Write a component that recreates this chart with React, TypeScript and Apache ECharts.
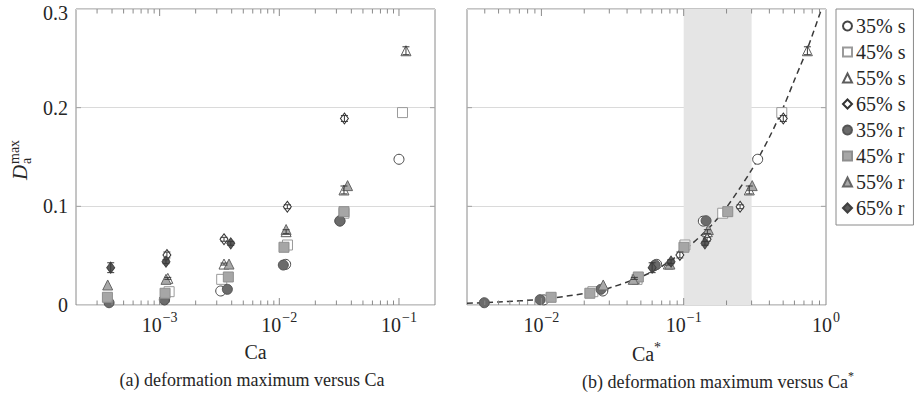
import React, { useEffect, useRef } from 'react';
import * as echarts from 'echarts';

const FONT = 'Liberation Serif, serif';
const TXT = '#262626';
const FRAME = '#8a8a8a';

// ---------- data (D = deformation maximum) ----------
// series names
const NAMES = ['35% s', '45% s', '55% s', '65% s', '35% r', '45% r', '55% r', '65% r'];

// Panel (a): x = Ca
const s35Ca = [1.1e-3, 3.24e-3, 1.13e-2, 3.21e-2, 0.1];
const s45Ca = [1.2e-3, 3.3e-3, 1.17e-2, 3.47e-2, 0.107];
const s55Ca = [1.17e-3, 3.45e-3, 1.14e-2, 3.47e-2, 0.1144];
const s65Ca = [1.15e-3, 3.45e-3, 1.167e-2, 3.5e-2];
const r35Ca = [3.78e-4, 1.094e-3, 3.68e-3, 1.08e-2, 3.21e-2];
const r45Ca = [3.66e-4, 1.11e-3, 3.75e-3, 1.094e-2, 3.47e-2];
const r55Ca = [3.68e-4, 1.13e-3, 3.8e-3, 1.14e-2, 3.72e-2];
const r65Ca = [3.9e-4, 1.13e-3, 3.93e-3];

// Panel (b): x = Ca*
const s35Cs = [1.04e-2, 2.7e-2, 6.45e-2, 0.1374, 0.331];
const s45Cs = [2.3e-2, 4.7e-2, 0.102, 0.188, 0.489];
const s55Cs = [4.5e-2, 7.8e-2, 0.1466, 0.289, 0.74];
const s65Cs = [9.4e-2, 0.146, 0.249, 0.501];
const r35Cs = [3.97e-3, 9.8e-3, 2.62e-2, 6.3e-2, 0.1436];
const r45Cs = [1.17e-2, 2.19e-2, 4.8e-2, 0.1004, 0.204];
const r55Cs = [2.72e-2, 4.42e-2, 8.0e-2, 0.149, 0.303];
const r65Cs = [6.0e-2, 8.15e-2, 0.141];

// y values: D_a^max
const s35D = [0.0052, 0.0142, 0.0412, 0.085, 0.1477];
const s45D = [0.0135, 0.026, 0.0608, 0.093, 0.195];
const s55D = [0.027, 0.0415, 0.0743, 0.1166, 0.2577];
const s65D = [0.0507, 0.0666, 0.0996, 0.189];
const r35D = [0.0023, 0.0054, 0.0159, 0.0405, 0.0854];
const r45D = [0.0078, 0.0119, 0.0284, 0.0585, 0.0946];
const r55D = [0.0203, 0.026, 0.0415, 0.0765, 0.121];
const r65D = [0.0378, 0.0439, 0.0625];

// error bar half-widths
const s55Err = [0.001, 0.001, 0.002, 0.004, 0.004];
const s65Err = [0.003, 0.002, 0.002, 0.003];
const r65Err = [0.005, 0.002, 0.002];

// dashed fit curve (panel b)
const fitCs = [0.003, 0.005, 0.01, 0.02, 0.03, 0.05, 0.07, 0.1, 0.15, 0.2, 0.3, 0.4, 0.5, 0.6, 0.75, 0.93];
const fitD = [0.0018, 0.003, 0.0059, 0.0117, 0.0173, 0.0285, 0.039, 0.055, 0.078, 0.099, 0.137, 0.17, 0.2, 0.228, 0.262, 0.3];

// shaded band in panel (b)
const bandRange = [0.1, 0.3];

// axis ranges & ticks
const xRangeA = [2e-4, 0.2];
const xRangeB = [3e-3, 1];
const yRange = [0, 0.3];
const yTickVals = [0.1, 0.2];
const mant = [2, 3, 4, 5, 6, 7, 8, 9];
const majorA = [1e-3, 1e-2, 1e-1];
const majorB = [1e-2, 1e-1];
const minorA = [-4, -3, -2].flatMap((e) => mant.map((m) => m * Math.pow(10, e))).filter((v) => v > xRangeA[0] * 1.01 && v < xRangeA[1] * 0.99);
const minorB = [-3, -2, -1].flatMap((e) => mant.map((m) => m * Math.pow(10, e))).filter((v) => v > xRangeB[0] * 1.01 && v < xRangeB[1] * 0.99);

// ---------- styles ----------
const STYLE: Record<string, { symbol: string; size: number | number[]; fill: string; border: string }> = {
  '35% s': { symbol: 'circle', size: 10, fill: '#ffffff', border: '#454545' },
  '45% s': { symbol: 'rect', size: 10, fill: '#ffffff', border: '#9a9a9a' },
  '55% s': { symbol: 'triangle', size: 10, fill: '#ffffff', border: '#5c5c5c' },
  '65% s': { symbol: 'diamond', size: [8, 11], fill: '#ffffff', border: '#333333' },
  '35% r': { symbol: 'circle', size: 10, fill: '#6b6b6b', border: '#555555' },
  '45% r': { symbol: 'rect', size: 10, fill: '#a6a6a6', border: '#8e8e8e' },
  '55% r': { symbol: 'triangle', size: 10, fill: '#a8a8a8', border: '#666666' },
  '65% r': { symbol: 'diamond', size: [8, 11], fill: '#5a5a5a', border: '#404040' },
};

const zip = (xs: number[], ys: number[]) => xs.map((x, i) => [x, ys[i]]);
const zip3 = (xs: number[], ys: number[], es: number[]) => xs.map((x, i) => [x, ys[i], es[i]]);

const panelX = [
  [s35Ca, s45Ca, s55Ca, s65Ca, r35Ca, r45Ca, r55Ca, r65Ca],
  [s35Cs, s45Cs, s55Cs, s65Cs, r35Cs, r45Cs, r55Cs, r65Cs],
];
const panelY = [s35D, s45D, s55D, s65D, r35D, r45D, r55D, r65D];

const powLabel = (v: number) => {
  const l = Math.log10(v);
  const n = Math.round(l);
  if (Math.abs(l - n) > 1e-6) return '';
  return `{b|10}{s|${n < 0 ? '\u2212' : ''}${Math.abs(n)}}`;
};

const xLabel = {
  formatter: powLabel,
  margin: 5,
  color: TXT,
  fontFamily: FONT,
  rich: {
    b: { fontSize: 20, fontFamily: FONT, color: TXT, verticalAlign: 'bottom', padding: [5, 0, 0, 0] },
    s: { fontSize: 14, fontFamily: FONT, color: TXT, verticalAlign: 'top', padding: [0, 0, 0, 1] },
  },
};

const xTickRender = (params: any, api: any) => {
  const v = api.value(0);
  const major = api.value(1) > 0.5;
  const cs = params.coordSys;
  const x = api.coord([v, 0.15])[0];
  const L = major ? 7 : 4.5;
  const bottom = cs.y + cs.height;
  const top = cs.y;
  const st = { stroke: FRAME, lineWidth: 1 };
  return {
    type: 'group',
    children: [
      { type: 'line', shape: { x1: x, y1: bottom, x2: x, y2: bottom - L }, style: st },
      { type: 'line', shape: { x1: x, y1: top, x2: x, y2: top + L }, style: st },
    ],
  };
};

const yTickRender = (params: any, api: any) => {
  const cs = params.coordSys;
  const y = api.coord([api.value(0), api.value(1)])[1];
  const st = { stroke: '#a0a0a0', lineWidth: 1 };
  return {
    type: 'group',
    children: [
      { type: 'line', shape: { x1: cs.x, y1: y, x2: cs.x + 5, y2: y }, style: st },
      { type: 'line', shape: { x1: cs.x + cs.width, y1: y, x2: cs.x + cs.width - 5, y2: y }, style: st },
    ],
  };
};

const errRender = (params: any, api: any) => {
  const x = api.value(0);
  const y = api.value(1);
  const e = api.value(2);
  const p1 = api.coord([x, y - e]);
  const p2 = api.coord([x, y + e]);
  const w = 3.5;
  const st = { stroke: '#3a3a3a', lineWidth: 1 };
  return {
    type: 'group',
    children: [
      { type: 'line', shape: { x1: p1[0], y1: p1[1], x2: p2[0], y2: p2[1] }, style: st },
      { type: 'line', shape: { x1: p1[0] - w, y1: p1[1], x2: p1[0] + w, y2: p1[1] }, style: st },
      { type: 'line', shape: { x1: p2[0] - w, y1: p2[1], x2: p2[0] + w, y2: p2[1] }, style: st },
    ],
  };
};

const bandRender = (params: any, api: any) => {
  const p1 = api.coord([api.value(0), yRange[1]]);
  const p2 = api.coord([api.value(1), yRange[0]]);
  return {
    type: 'rect',
    shape: { x: p1[0], y: p1[1], width: p2[0] - p1[0], height: p2[1] - p1[1] },
    style: { fill: '#e5e5e5' },
  };
};

const yLabelFmt = (v: number) => {
  if (v === 0) return '0';
  const s = v.toFixed(1);
  return Math.abs(v - yRange[1]) < 1e-9 ? `{t|${s}}` : s;
};

function buildOption() {
  const series: any[] = [];
  // band
  series.push({
    type: 'custom',
    xAxisIndex: 1,
    yAxisIndex: 1,
    z: 0,
    silent: true,
    renderItem: bandRender,
    data: [[bandRange[0], bandRange[1]]],
  });
  // fit curve
  series.push({
    type: 'line',
    name: 'fit',
    xAxisIndex: 1,
    yAxisIndex: 1,
    data: zip(fitCs, fitD),
    showSymbol: false,
    symbol: 'none',
    smooth: 0.3,
    z: 1,
    silent: true,
    lineStyle: { color: '#3a3a3a', width: 1.5, type: [6, 4] },
  });
  for (let p = 0; p < 2; p++) {
    NAMES.forEach((name, i) => {
      const st = STYLE[name];
      series.push({
        type: 'scatter',
        name,
        xAxisIndex: p,
        yAxisIndex: p,
        symbol: st.symbol,
        symbolSize: st.size,
        itemStyle: { color: st.fill, borderColor: st.border, borderWidth: 1, opacity: 1 },
        emphasis: { disabled: true },
        z: 3,
        silent: true,
        data: zip(panelX[p][i], panelY[i]),
      });
    });
    const xs = panelX[p];
    series.push({
      type: 'custom',
      xAxisIndex: p,
      yAxisIndex: p,
      z: 4,
      silent: true,
      renderItem: errRender,
      data: [...zip3(xs[2], s55D, s55Err), ...zip3(xs[3], s65D, s65Err), ...zip3(xs[7], r65D, r65Err)],
    });
    const majors = p === 0 ? majorA : majorB;
    const minors = p === 0 ? minorA : minorB;
    series.push({
      type: 'custom',
      xAxisIndex: p,
      yAxisIndex: p,
      z: 5,
      silent: true,
      renderItem: xTickRender,
      data: [...majors.map((v) => [v, 1]), ...minors.map((v) => [v, 0])],
    });
    series.push({
      type: 'custom',
      xAxisIndex: p,
      yAxisIndex: p,
      z: 5,
      silent: true,
      renderItem: yTickRender,
      data: yTickVals.map((v) => [(p === 0 ? xRangeA : xRangeB)[0] * 1.5, v]),
    });
  }

  const gridBase = { top: 9, width: 359, height: 296, show: true, borderColor: FRAME, borderWidth: 1, containLabel: false, outerBoundsMode: 'none' };

  const yAxisBase = (p: number) => ({
    type: 'value',
    gridIndex: p,
    min: yRange[0],
    max: yRange[1],
    interval: 0.1,
    axisLine: { show: false },
    axisTick: { show: false },
    splitLine: { show: true, lineStyle: { color: '#dadada', width: 1 } },
    axisLabel: {
      show: p === 0,
      margin: 8,
      color: TXT,
      fontFamily: FONT,
      fontSize: 20,
      formatter: yLabelFmt,
      rich: {
        t: { fontSize: 20, fontFamily: FONT, color: TXT, padding: [7, 0, 0, 0] },
      },
    },
  });

  const xAxisBase = (p: number) => ({
    type: 'log',
    logBase: 10,
    gridIndex: p,
    min: (p === 0 ? xRangeA : xRangeB)[0],
    max: (p === 0 ? xRangeA : xRangeB)[1],
    axisLine: { show: false },
    axisTick: { show: false },
    minorTick: { show: false },
    splitLine: { show: false },
    axisLabel: xLabel,
  });

  return {
    animation: false,
    backgroundColor: '#ffffff',
    textStyle: { fontFamily: FONT },
    grid: [
      { ...gridBase, left: 76 },
      { ...gridBase, left: 467 },
    ],
    xAxis: [xAxisBase(0), xAxisBase(1)],
    yAxis: [yAxisBase(0), yAxisBase(1)],
    legend: {
      data: NAMES,
      orient: 'vertical',
      left: 836,
      top: 9,
      padding: [7, 8, 7, 6],
      itemGap: 6,
      itemWidth: 9,
      itemHeight: 9,
      borderColor: FRAME,
      borderWidth: 1,
      selectedMode: false,
      textStyle: { fontFamily: FONT, fontSize: 20, color: TXT, padding: [0, 0, 0, -1] },
    },
    graphic: [
      {
        type: 'group',
        x: 19,
        y: 157,
        rotation: Math.PI / 2,
        children: [
          { type: 'text', x: -23, y: 1, style: { text: 'D', font: `italic 21px ${FONT}`, fill: TXT, textAlign: 'left', textVerticalAlign: 'middle' } },
          { type: 'text', x: -7, y: 7, style: { text: 'a', font: `14px ${FONT}`, fill: TXT, textAlign: 'left', textVerticalAlign: 'middle' } },
          { type: 'text', x: -7, y: -5, style: { text: 'max', font: `14px ${FONT}`, fill: TXT, textAlign: 'left', textVerticalAlign: 'middle' } },
        ],
      },
      { type: 'text', x: 255.5, y: 352, style: { text: 'Ca', font: `20px ${FONT}`, fill: TXT, textAlign: 'center', textVerticalAlign: 'middle' } },
      {
        type: 'text',
        x: 646.5,
        y: 352,
        style: {
          text: '{a|Ca}{s|*}',
          fill: TXT,
          textAlign: 'center',
          textVerticalAlign: 'middle',
          rich: {
            a: { fontSize: 20, fontFamily: FONT, fill: TXT, verticalAlign: 'bottom', padding: [4, 0, 0, 0] },
            s: { fontSize: 14, fontFamily: FONT, fill: TXT, verticalAlign: 'top' },
          },
        },
      },
      { type: 'text', x: 252, y: 380, style: { text: '(a) deformation maximum versus Ca', font: `18px ${FONT}`, fill: TXT, textAlign: 'center', textVerticalAlign: 'middle' } },
      {
        type: 'text',
        x: 718,
        y: 380,
        style: {
          text: '{a|(b) deformation maximum versus Ca}{s|*}',
          fill: TXT,
          textAlign: 'center',
          textVerticalAlign: 'middle',
          rich: {
            a: { fontSize: 18, fontFamily: FONT, fill: TXT, verticalAlign: 'bottom', padding: [3, 0, 0, 0] },
            s: { fontSize: 12, fontFamily: FONT, fill: TXT, verticalAlign: 'top' },
          },
        },
      },
    ],
    series,
  };
}

export default function App() {
  const ref = useRef<HTMLDivElement>(null);
  useEffect(() => {
    if (!ref.current) return;
    const chart = echarts.init(ref.current, null, { renderer: 'svg' });
    chart.setOption(buildOption() as any);
    return () => chart.dispose();
  }, []);
  return <div ref={ref} style={{ position: 'absolute', left: 0, top: 0, width: 916, height: 409 }} />;
}
